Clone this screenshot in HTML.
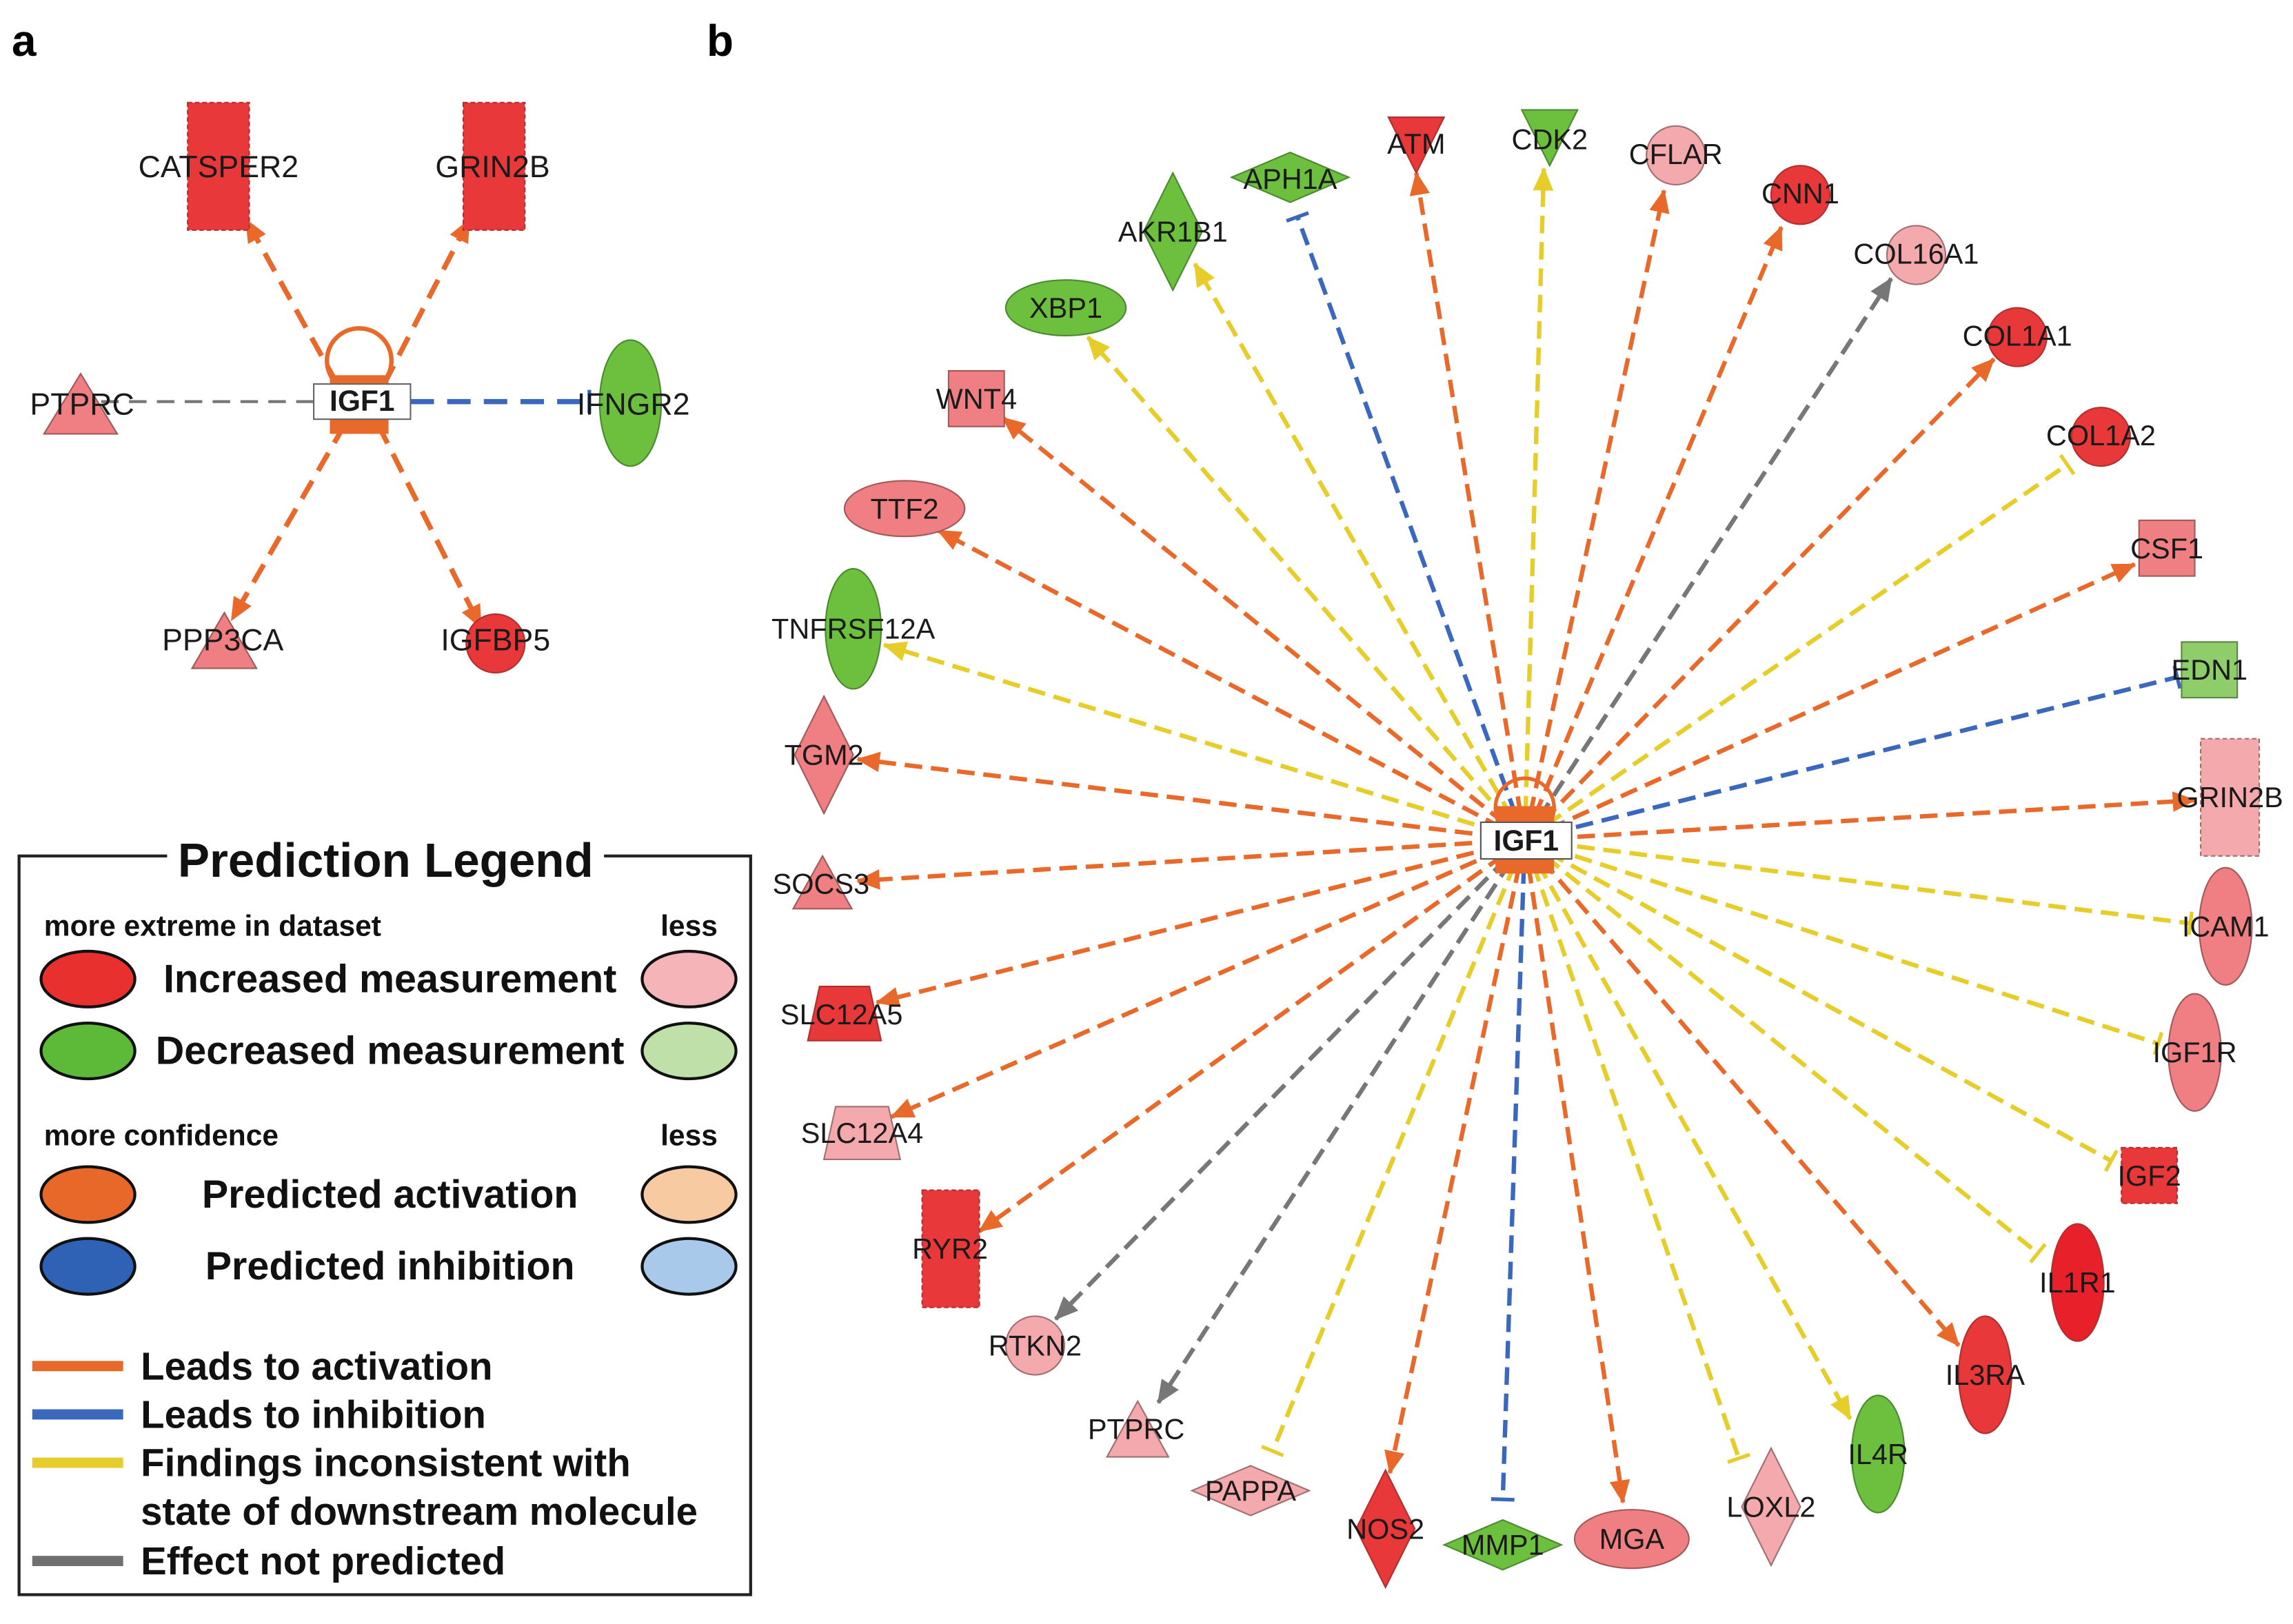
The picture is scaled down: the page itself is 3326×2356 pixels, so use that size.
<!DOCTYPE html>
<html><head><meta charset="utf-8"><style>
html,body{margin:0;padding:0;background:#fff;}
svg{display:block;}
text{font-family:"Liberation Sans",Arial,sans-serif;}
.n{font-size:19.5px;fill:#1a1a1a;text-anchor:middle;dominant-baseline:central;}
.na{font-size:21px;}
.lg{font-weight:bold;fill:#111;dominant-baseline:central;}
.e{fill:none;stroke-width:3;stroke-dasharray:12 6;}
.o{stroke:#e8692a;}.y{stroke:#e6cd2a;}.b{stroke:#3a68bd;}.g{stroke:#777;}
.red{fill:#e8383a;stroke:#b03030;stroke-width:1;}
.pk{fill:#ef7f83;stroke:#a05a5a;stroke-width:1;}
.lp{fill:#f4a9ad;stroke:#a07070;stroke-width:1;}
.gr{fill:#6dbf3e;stroke:#4a8a30;stroke-width:1;}
.lg2{fill:#8fcc6a;stroke:#5a8a40;stroke-width:1;}
.dash{stroke-dasharray:3 2;}
</style></head><body>
<svg width="3326" height="2356" viewBox="0 0 1564 1108" preserveAspectRatio="none" xmlns="http://www.w3.org/2000/svg">
<defs>
<marker id="ao" markerUnits="userSpaceOnUse" markerWidth="16" markerHeight="14" refX="15" refY="7" orient="auto"><path d="M0,0 L16,7 L0,14 z" fill="#e8692a"/></marker>
<marker id="ay" markerUnits="userSpaceOnUse" markerWidth="16" markerHeight="14" refX="15" refY="7" orient="auto"><path d="M0,0 L16,7 L0,14 z" fill="#e6cd2a"/></marker>
<marker id="ag" markerUnits="userSpaceOnUse" markerWidth="16" markerHeight="14" refX="15" refY="7" orient="auto"><path d="M0,0 L16,7 L0,14 z" fill="#777"/></marker>
<marker id="tb" markerUnits="userSpaceOnUse" markerWidth="4" markerHeight="16" refX="2" refY="8" orient="auto"><path d="M2,0 L2,16" stroke="#3a68bd" stroke-width="2.5"/></marker>
<marker id="ty" markerUnits="userSpaceOnUse" markerWidth="4" markerHeight="16" refX="2" refY="8" orient="auto"><path d="M2,0 L2,16" stroke="#e6cd2a" stroke-width="2.5"/></marker>
</defs>

<text x="8" y="38" font-size="30" font-weight="bold">a</text>
<text x="482" y="38" font-size="30" font-weight="bold">b</text>

<!-- ===== Panel a ===== -->
<line class="e o" x1="230" y1="262" x2="168" y2="150" marker-end="url(#ao)" style="stroke-width:3.5;stroke-dasharray:14 8"/>
<line class="e o" x1="262" y1="262" x2="320" y2="150" marker-end="url(#ao)" style="stroke-width:3.5;stroke-dasharray:14 8"/>
<line class="e o" x1="235" y1="290" x2="158" y2="423" marker-end="url(#ao)" style="stroke-width:3.5;stroke-dasharray:14 8"/>
<line class="e o" x1="258" y1="290" x2="328" y2="428" marker-end="url(#ao)" style="stroke-width:3.5;stroke-dasharray:14 8"/>
<line class="e g" x1="214" y1="274" x2="65" y2="274" style="stroke-dasharray:12 7;stroke-width:2"/>
<line class="e b" x1="280" y1="274" x2="402" y2="274" marker-end="url(#tb)" style="stroke-width:3.5;stroke-dasharray:16 9"/>
<rect x="128" y="70" width="42" height="87" class="red dash"/>
<rect x="316" y="70" width="42" height="87" class="red dash"/>
<path d="M55,255 L80,296 L30,296 z" class="pk"/>
<ellipse cx="430" cy="275" rx="21" ry="43" class="gr"/>
<path d="M153,418 L175,456 L131,456 z" class="pk"/>
<circle cx="338" cy="439" r="20" class="red"/>
<circle cx="245" cy="246" r="22" fill="none" stroke="#e8692a" stroke-width="3"/>
<rect x="225" y="256" width="40" height="40" fill="#e8692a"/>
<rect x="214" y="262" width="66" height="24" fill="#fff" stroke="#666" stroke-width="1"/>
<text x="247" y="274" class="n" style="font-weight:bold;font-size:20px">IGF1</text>
<text x="149" y="114" class="n na">CATSPER2</text>
<text x="336" y="114" class="n na">GRIN2B</text>
<text x="56" y="276" class="n na">PTPRC</text>
<text x="432" y="276" class="n na">IFNGR2</text>
<text x="152" y="437" class="n na">PPP3CA</text>
<text x="338" y="437" class="n na">IGFBP5</text>

<!-- ===== Legend ===== -->
<rect x="13" y="584" width="499" height="504" fill="#fff" stroke="#222" stroke-width="2"/>
<rect x="114" y="568" width="298" height="32" fill="#fff"/>
<text x="263" y="587" class="lg" font-size="32.5" text-anchor="middle">Prediction Legend</text>
<text x="30" y="632" class="lg" font-size="20">more extreme in dataset</text>
<text x="470" y="632" class="lg" font-size="20" text-anchor="middle">less</text>
<ellipse cx="60" cy="668" rx="32" ry="19" fill="#e8302e" stroke="#111" stroke-width="2"/>
<text x="266" y="668" class="lg" font-size="27" text-anchor="middle">Increased measurement</text>
<ellipse cx="470" cy="668" rx="32" ry="19" fill="#f5b4b8" stroke="#111" stroke-width="2"/>
<ellipse cx="60" cy="717" rx="32" ry="19" fill="#5cba38" stroke="#111" stroke-width="2"/>
<text x="266" y="717" class="lg" font-size="27" text-anchor="middle">Decreased measurement</text>
<ellipse cx="470" cy="717" rx="32" ry="19" fill="#c0e0aa" stroke="#111" stroke-width="2"/>
<text x="30" y="775" class="lg" font-size="20">more confidence</text>
<text x="470" y="775" class="lg" font-size="20" text-anchor="middle">less</text>
<ellipse cx="60" cy="815" rx="32" ry="19" fill="#e8682a" stroke="#111" stroke-width="2"/>
<text x="266" y="815" class="lg" font-size="27" text-anchor="middle">Predicted activation</text>
<ellipse cx="470" cy="815" rx="32" ry="19" fill="#f7caa2" stroke="#111" stroke-width="2"/>
<ellipse cx="60" cy="864" rx="32" ry="19" fill="#2f62b4" stroke="#111" stroke-width="2"/>
<text x="266" y="864" class="lg" font-size="27" text-anchor="middle">Predicted inhibition</text>
<ellipse cx="470" cy="864" rx="32" ry="19" fill="#a9c9ea" stroke="#111" stroke-width="2"/>
<line x1="22" y1="932" x2="84" y2="932" stroke="#e8692a" stroke-width="7"/>
<text x="96" y="932" class="lg" font-size="26.5">Leads to activation</text>
<line x1="22" y1="965" x2="84" y2="965" stroke="#3a68bd" stroke-width="7"/>
<text x="96" y="965" class="lg" font-size="26.5">Leads to inhibition</text>
<line x1="22" y1="998" x2="84" y2="998" stroke="#e6cd2a" stroke-width="7"/>
<text x="96" y="998" class="lg" font-size="26.5">Findings inconsistent with</text>
<text x="96" y="1031" class="lg" font-size="26.5">state of downstream molecule</text>
<line x1="22" y1="1065" x2="84" y2="1065" stroke="#707070" stroke-width="7"/>
<text x="96" y="1065" class="lg" font-size="26.5">Effect not predicted</text>

<!-- ===== Panel b edges ===== -->
<g>
<line class="e o" x1="1040" y1="573" x2="966" y2="118" marker-end="url(#ao)"/>
<line class="e y" x1="1040" y1="573" x2="1053" y2="115" marker-end="url(#ay)"/>
<line class="e b" x1="1040" y1="573" x2="885" y2="148" marker-end="url(#tb)"/>
<line class="e y" x1="1040" y1="573" x2="815" y2="180" marker-end="url(#ay)"/>
<line class="e o" x1="1040" y1="573" x2="1135" y2="130" marker-end="url(#ao)"/>
<line class="e o" x1="1040" y1="573" x2="1215" y2="155" marker-end="url(#ao)"/>
<line class="e g" x1="1040" y1="573" x2="1290" y2="190" marker-end="url(#ag)"/>
<line class="e o" x1="1040" y1="573" x2="1360" y2="245" marker-end="url(#ao)"/>
<line class="e y" x1="1040" y1="573" x2="1410" y2="317" marker-end="url(#ty)"/>
<line class="e o" x1="1040" y1="573" x2="1456" y2="385" marker-end="url(#ao)"/>
<line class="e b" x1="1040" y1="573" x2="1485" y2="462" marker-end="url(#tb)"/>
<line class="e o" x1="1040" y1="573" x2="1497" y2="546" marker-end="url(#ao)"/>
<line class="e y" x1="1040" y1="573" x2="1494" y2="630" marker-end="url(#ty)"/>
<line class="e y" x1="1040" y1="573" x2="1472" y2="712" marker-end="url(#ty)"/>
<line class="e y" x1="1040" y1="573" x2="1440" y2="792" marker-end="url(#ty)"/>
<line class="e y" x1="1040" y1="573" x2="1390" y2="855" marker-end="url(#ty)"/>
<line class="e o" x1="1040" y1="573" x2="1336" y2="918" marker-end="url(#ao)"/>
<line class="e y" x1="1040" y1="573" x2="1262" y2="968" marker-end="url(#ay)"/>
<line class="e y" x1="1040" y1="573" x2="1186" y2="995" marker-end="url(#ty)"/>
<line class="e o" x1="1040" y1="573" x2="1107" y2="1025" marker-end="url(#ao)"/>
<line class="e b" x1="1040" y1="573" x2="1025" y2="1023" marker-end="url(#tb)"/>
<line class="e o" x1="1040" y1="573" x2="948" y2="1005" marker-end="url(#ao)"/>
<line class="e y" x1="1040" y1="573" x2="868" y2="990" marker-end="url(#ty)"/>
<line class="e g" x1="1040" y1="573" x2="790" y2="957" marker-end="url(#ag)"/>
<line class="e g" x1="1040" y1="573" x2="720" y2="900" marker-end="url(#ag)"/>
<line class="e o" x1="1040" y1="573" x2="668" y2="840" marker-end="url(#ao)"/>
<line class="e o" x1="1040" y1="573" x2="608" y2="762" marker-end="url(#ao)"/>
<line class="e o" x1="1040" y1="573" x2="598" y2="684" marker-end="url(#ao)"/>
<line class="e o" x1="1040" y1="573" x2="585" y2="601" marker-end="url(#ao)"/>
<line class="e o" x1="1040" y1="573" x2="585" y2="518" marker-end="url(#ao)"/>
<line class="e y" x1="1040" y1="573" x2="603" y2="440" marker-end="url(#ay)"/>
<line class="e o" x1="1040" y1="573" x2="640" y2="362" marker-end="url(#ao)"/>
<line class="e o" x1="1040" y1="573" x2="684" y2="285" marker-end="url(#ao)"/>
<line class="e y" x1="1040" y1="573" x2="742" y2="230" marker-end="url(#ay)"/>
</g>

<!-- ===== Panel b nodes ===== -->
<path d="M947,80 L985,80 L966,118 z" class="red"/>
<path d="M1038,75 L1076,75 L1057,113 z" class="gr"/>
<path d="M840,121 L880,104 L920,121 L880,138 z" class="gr"/>
<path d="M800,118 L820,158 L800,198 L780,158 z" class="gr"/>
<circle cx="1143" cy="106" r="20" class="lp"/>
<circle cx="1228" cy="133" r="20" class="red"/>
<circle cx="1307" cy="174" r="20" class="lp"/>
<circle cx="1376" cy="230" r="20" class="red"/>
<circle cx="1433" cy="298" r="20" class="red"/>
<rect x="1459" y="355" width="38" height="38" class="pk"/>
<rect x="1488" y="438" width="38" height="38" class="lg2"/>
<rect x="1501" y="504" width="40" height="80" class="lp dash"/>
<ellipse cx="1518" cy="632" rx="18" ry="40" class="pk"/>
<ellipse cx="1497" cy="718" rx="18" ry="40" class="pk"/>
<rect x="1447" y="783" width="38" height="38" class="red dash"/>
<ellipse cx="1417" cy="875" rx="18" ry="40" class="red" style="fill:#e8202a"/>
<ellipse cx="1354" cy="938" rx="18" ry="40" class="red"/>
<ellipse cx="1281" cy="992" rx="18" ry="40" class="gr"/>
<path d="M1208,988 L1228,1028 L1208,1068 L1188,1028 z" class="lp"/>
<ellipse cx="1113" cy="1050" rx="39" ry="20" class="pk"/>
<path d="M985,1054 L1025,1037 L1065,1054 L1025,1071 z" class="gr"/>
<path d="M945,1003 L965,1043 L945,1083 L925,1043 z" class="red"/>
<path d="M813,1017 L853,1000 L893,1017 L853,1034 z" class="lp"/>
<path d="M776,956 L797,994 L755,994 z" class="lp"/>
<circle cx="706" cy="918" r="20" class="lp"/>
<rect x="629" y="812" width="39" height="80" class="red dash"/>
<path d="M570,755 L606,755 L614,791 L562,791 z" class="lp"/>
<path d="M559,673 L593,673 L601,710 L551,710 z" class="red"/>
<path d="M561,584 L581,620 L541,620 z" class="pk"/>
<path d="M562,475 L582,515 L562,555 L542,515 z" class="pk"/>
<ellipse cx="582" cy="429" rx="19" ry="41" class="gr"/>
<ellipse cx="617" cy="347" rx="41" ry="19" class="pk"/>
<rect x="647" y="253" width="38" height="38" class="pk"/>
<ellipse cx="727" cy="210" rx="41" ry="19" class="gr"/>

<circle cx="1040" cy="551" r="20" fill="none" stroke="#e8692a" stroke-width="2.5"/>
<rect x="1020" y="550" width="40" height="46" fill="#e8692a"/>
<rect x="1010" y="561" width="62" height="25" fill="#fff" stroke="#555" stroke-width="1"/>
<text x="1041" y="574" class="n" style="font-weight:bold;font-size:20px">IGF1</text>

<text x="966" y="98" class="n">ATM</text>
<text x="1057" y="95" class="n">CDK2</text>
<text x="880" y="122" class="n">APH1A</text>
<text x="800" y="158" class="n">AKR1B1</text>
<text x="1143" y="105" class="n">CFLAR</text>
<text x="1228" y="132" class="n">CNN1</text>
<text x="1307" y="173" class="n">COL16A1</text>
<text x="1376" y="229" class="n">COL1A1</text>
<text x="1433" y="297" class="n">COL1A2</text>
<text x="1478" y="374" class="n">CSF1</text>
<text x="1507" y="457" class="n">EDN1</text>
<text x="1521" y="544" class="n">GRIN2B</text>
<text x="1518" y="632" class="n">ICAM1</text>
<text x="1497" y="718" class="n">IGF1R</text>
<text x="1466" y="802" class="n">IGF2</text>
<text x="1417" y="875" class="n">IL1R1</text>
<text x="1354" y="938" class="n">IL3RA</text>
<text x="1281" y="992" class="n">IL4R</text>
<text x="1208" y="1028" class="n">LOXL2</text>
<text x="1113" y="1050" class="n">MGA</text>
<text x="1025" y="1054" class="n">MMP1</text>
<text x="945" y="1043" class="n">NOS2</text>
<text x="853" y="1017" class="n">PAPPA</text>
<text x="775" y="975" class="n">PTPRC</text>
<text x="706" y="918" class="n">RTKN2</text>
<text x="648" y="852" class="n">RYR2</text>
<text x="588" y="773" class="n">SLC12A4</text>
<text x="574" y="692" class="n">SLC12A5</text>
<text x="560" y="603" class="n">SOCS3</text>
<text x="562" y="515" class="n">TGM2</text>
<text x="582" y="429" class="n">TNFRSF12A</text>
<text x="617" y="347" class="n">TTF2</text>
<text x="666" y="272" class="n">WNT4</text>
<text x="727" y="210" class="n">XBP1</text>
</svg>
</body></html>
